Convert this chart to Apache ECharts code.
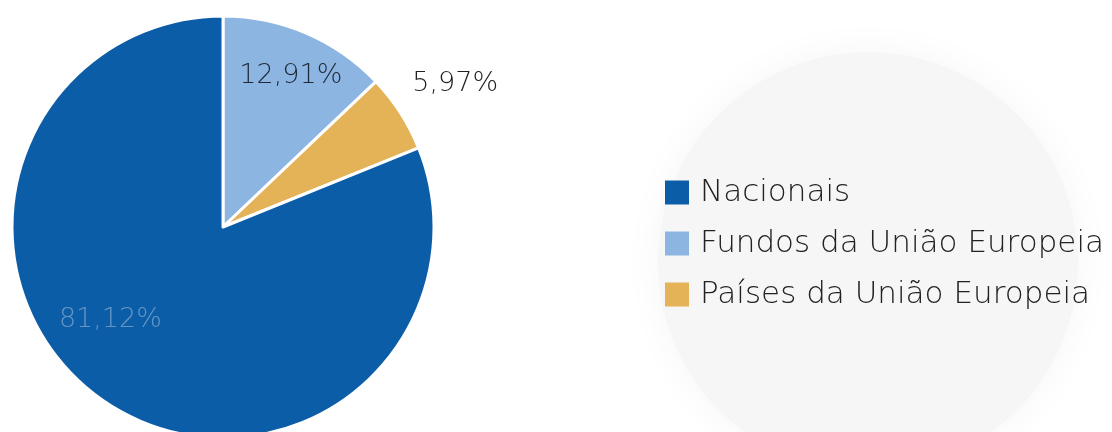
<!DOCTYPE html>
<html>
<head>
<meta charset="utf-8">
<script src="https://cdn.jsdelivr.net/npm/echarts@6/dist/echarts.min.js"></script>
<style>
  html, body { margin: 0; padding: 0; background: #ffffff; }
  #chart { width: 1112px; height: 432px; }
</style>
</head>
<body>
<div id="chart"></div>
<script>
// Data (pie drawn clockwise from 12 o'clock)
const categories = ['Fundos da União Europeia', 'Países da União Europeia', 'Nacionais'];
const values = [12.91, 5.97, 81.12];
const valueLabels = ['12,91%', '5,97%', '81,12%'];
const legendOrder = ['Nacionais', 'Fundos da União Europeia', 'Países da União Europeia'];

const colors = {
  'Nacionais': '#0c5da7',
  'Fundos da União Europeia': '#8db5e2',
  'Países da União Europeia': '#e4b257'
};
const labelStyles = {
  'Fundos da União Europeia': { offset: [25, -51], color: '#1f2a38' },
  'Países da União Europeia': { offset: [141, -84], color: '#222222' },
  'Nacionais': { offset: [-52, 3], color: 'rgba(190,205,225,0.5)' }
};

const chart = echarts.init(document.getElementById('chart'), null, { renderer: 'canvas' });
const FONT = '"DejaVu Sans", sans-serif';

chart.setOption({
  backgroundColor: '#ffffff',
  animation: false,
  graphic: [{
    type: 'circle',
    shape: { cx: 868, cy: 262, r: 210 },
    style: { fill: '#f6f6f6', shadowBlur: 40, shadowColor: '#f6f6f6' },
    z: -10,
    silent: true
  }],
  legend: {
    orient: 'vertical',
    left: 665,
    top: 177,
    padding: 0,
    itemGap: 20,
    itemWidth: 24,
    itemHeight: 24,
    icon: 'rect',
    itemStyle: { borderWidth: 0 },
    data: legendOrder,
    textStyle: {
      fontFamily: FONT,
      fontWeight: 200,
      fontSize: 31,
      lineHeight: 30,
      color: '#222222',
      padding: [0, 0, 0, 6]
    }
  },
  series: [{
    type: 'pie',
    center: [223, 227],
    radius: [0, 211],
    startAngle: 90,
    clockwise: true,
    avoidLabelOverlap: false,
    itemStyle: { borderColor: '#ffffff', borderWidth: 3 },
    label: {
      show: true,
      position: 'inside',
      fontFamily: FONT,
      fontWeight: 200,
      fontSize: 27
    },
    labelLine: { show: false },
    emphasis: { disabled: true },
    data: categories.map((c, i) => ({
      name: c,
      value: values[i],
      itemStyle: { color: colors[c] },
      label: {
        formatter: valueLabels[i],
        offset: labelStyles[c].offset,
        color: labelStyles[c].color
      }
    }))
  }]
});
</script>
</body>
</html>
